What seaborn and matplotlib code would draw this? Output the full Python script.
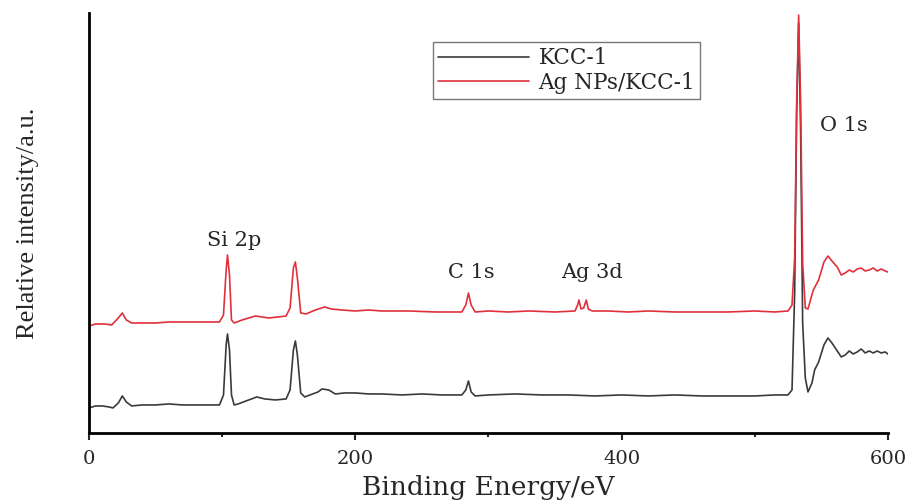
import matplotlib
matplotlib.use("Agg")
import matplotlib.pyplot as plt
import pandas as pd
import seaborn as sns
from matplotlib.ticker import MultipleLocator

# binding energy (eV) and relative intensity (a.u.)
energy_kcc = [0, 5, 10, 15, 18, 22, 25, 28, 32, 40, 50, 60, 70, 80, 90, 98,
              101, 103, 104, 105.5, 107, 109, 112, 116, 120, 126, 132, 140, 148,
              151, 153.5, 155, 156.5, 159, 162, 168, 172, 175, 180, 185, 192, 200,
              210, 220, 235, 250, 265, 280, 283, 285, 287, 290, 300, 320, 340, 360,
              380, 400, 420, 440, 460, 480, 500, 515, 525, 528, 530, 531.5, 533,
              534.5, 536, 538, 540, 543, 545, 548, 552, 555, 558, 562, 565, 568,
              571, 574, 577, 580, 583, 586, 589, 592, 595, 598, 600]
intensity_kcc = [25, 27, 27, 26, 25, 30, 37, 31, 27, 28, 28, 29, 28, 28, 28, 28,
                 38, 88, 99, 83, 38, 28, 29, 31, 33, 36, 34, 33, 34,
                 43, 83, 92, 78, 40, 36, 39, 41, 44, 43, 39, 40, 40,
                 39, 39, 38, 39, 38, 38, 43, 52, 41, 37, 38, 39, 38, 38,
                 37, 38, 37, 38, 37, 37, 37, 38, 38, 43, 140, 320, 410,
                 300, 110, 55, 41, 50, 63, 71, 88, 95, 90, 82, 76, 78,
                 82, 79, 81, 84, 80, 82, 80, 82, 80, 81, 79]

energy_ag = [0, 5, 12, 17, 22, 25, 28, 32, 40, 50, 60, 70, 85, 98,
             101, 103, 104, 105.5, 107, 109, 115, 120, 125, 130, 135, 142, 148,
             151, 153.5, 155, 156.5, 159, 163, 170, 177, 182, 190, 200, 210,
             220, 240, 260, 280, 283, 285, 287, 290, 300, 315, 330, 350, 365,
             367, 368, 369.5, 371.5, 373.5, 375, 378, 390, 405, 420, 440, 460,
             480, 500, 515, 525, 528, 530, 531.5, 533, 534.5, 536, 538, 540,
             544, 548, 552, 555, 558, 562, 565, 568, 571, 574, 577, 580, 583,
             586, 589, 592, 595, 598, 600]
intensity_ag = [107, 109, 109, 108, 115, 120, 113, 110, 110, 110, 111, 111, 111, 111,
                118, 163, 178, 158, 113, 110, 113, 115, 117, 116, 115, 116, 117,
                125, 165, 171, 155, 120, 119, 123, 126, 124, 123, 122, 123,
                122, 122, 121, 121, 128, 140, 128, 121, 122, 121, 122, 121, 122,
                128, 133, 124, 125, 133, 124, 122, 122, 121, 122, 121, 121,
                121, 122, 121, 122, 128, 175, 330, 418, 330, 170, 125, 124,
                143, 153, 171, 177, 172, 166, 158, 160, 163, 161, 164, 165, 162,
                163, 165, 162, 164, 162, 161]

labels = ["KCC-1", "Ag NPs/KCC-1"]
tick_values = [0, 200, 400, 600]

# peak labels: text, energy, intensity
peak_names = ["Si 2p", "C 1s", "Ag 3d", "O 1s"]
peak_x = [109, 287, 378, 567]
peak_y = [193, 161, 161, 308]

df = pd.concat([
    pd.DataFrame({"energy": energy_kcc, "intensity": intensity_kcc, "sample": labels[0]}),
    pd.DataFrame({"energy": energy_ag, "intensity": intensity_ag, "sample": labels[1]}),
])

sns.set_style("white")
plt.rcParams["font.family"] = ["DejaVu Serif"]

fig = plt.figure(figsize=(9.14, 5.04), dpi=100)
ax = fig.add_axes([0.0974, 0.141, 0.874, 0.833])

sns.lineplot(data=df, x="energy", y="intensity", hue="sample", hue_order=labels,
             palette=["#3a3a3a", "#e0303c"], estimator=None, sort=False,
             linewidth=1.2, ax=ax)

for name, px, py in zip(peak_names, peak_x, peak_y):
    ax.text(px, py, name, ha="center", va="center", fontsize=15)

ax.set_xlim(0, 600)
ax.set_ylim(0, 420)
ax.set_xticks(tick_values)
ax.xaxis.set_minor_locator(MultipleLocator(100))
ax.set_yticks([])
ax.tick_params(axis="x", which="major", direction="out", length=5, width=1.5,
               labelsize=14, bottom=True, pad=7)
ax.tick_params(axis="x", which="minor", direction="out", length=3, width=1.5, bottom=True)

for side in ["top", "right"]:
    ax.spines[side].set_visible(False)
for side in ["left", "bottom"]:
    ax.spines[side].set_color("black")
    ax.spines[side].set_linewidth(2)

ax.set_xlabel("Binding Energy/eV", fontsize=19, labelpad=5)
ax.set_ylabel("Relative intensity/a.u.", fontsize=19, family="Liberation Serif",
              labelpad=36)

leg = ax.legend(loc="upper left", bbox_to_anchor=(0.4305, 0.931), fontsize=15.5,
                frameon=True, fancybox=False, handlelength=4.2, handletextpad=0.45,
                borderpad=0.25, labelspacing=0.1, borderaxespad=0, title=None)
leg.get_frame().set_edgecolor("#555555")
leg.get_frame().set_linewidth(1)

plt.savefig("out.png", dpi=100)
plt.close()
